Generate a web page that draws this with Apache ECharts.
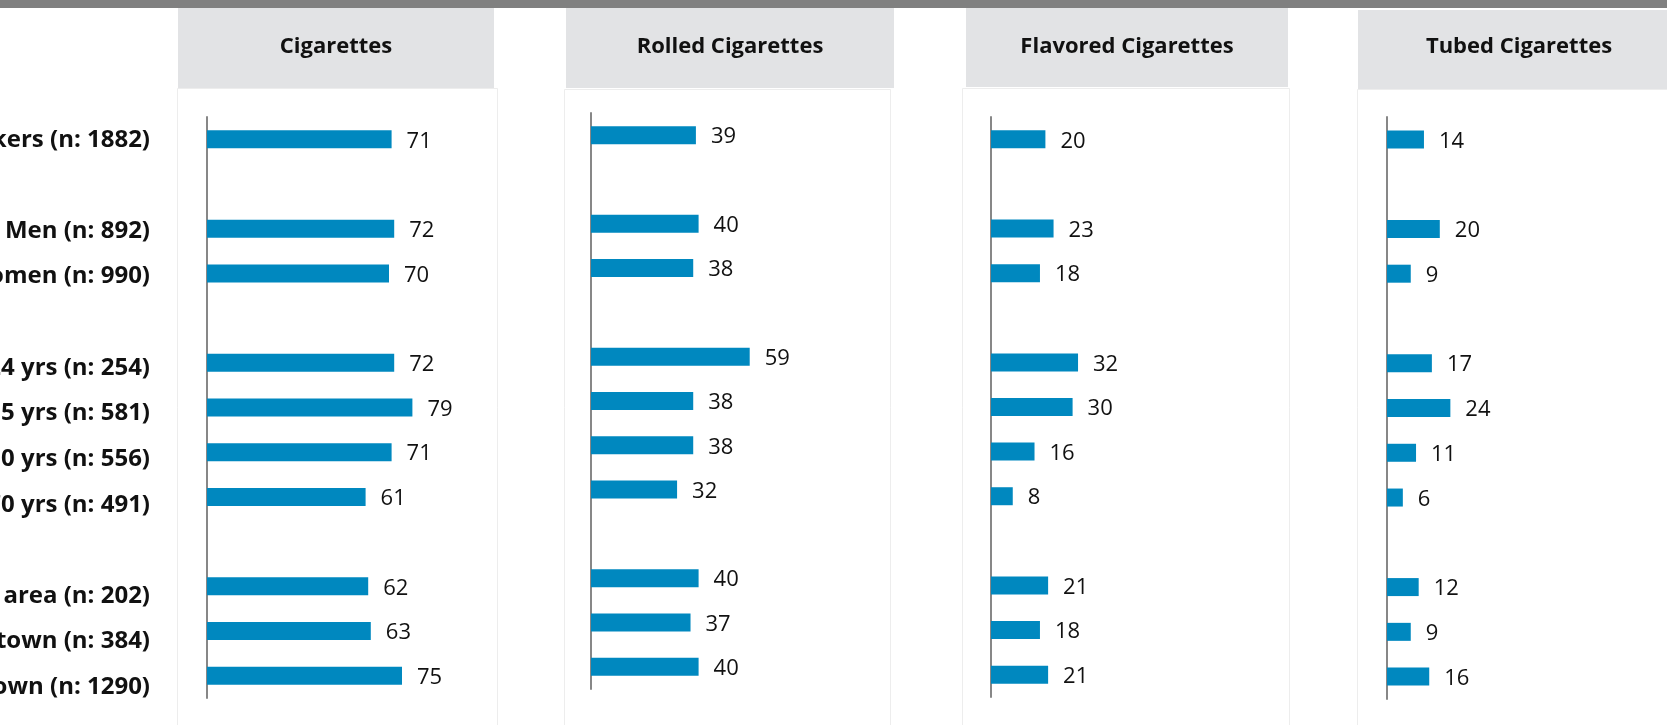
<!DOCTYPE html>
<html>
<head>
<meta charset="utf-8">
<script src="https://cdn.jsdelivr.net/npm/echarts@6/dist/echarts.min.js"></script>
<style>
  html, body { margin: 0; padding: 0; background: #ffffff; }
  #chart { width: 1667px; height: 725px; }
</style>
</head>
<body>
<div id="chart"></div>
<script>
// ---- data ----
const categories = ['All smokers (n: 1882)', '', 'Men (n: 892)', 'Women (n: 990)', '',
  '18-24 yrs (n: 254)', '25-35 yrs (n: 581)', '36-50 yrs (n: 556)', '51-70 yrs (n: 491)', '',
  'Rural area (n: 202)', 'Small town (n: 384)', 'Big town (n: 1290)'];
const panelTitles = ['Cigarettes', 'Rolled Cigarettes', 'Flavored Cigarettes', 'Tubed Cigarettes'];
const cigarettes = [71, null, 72, 70, null, 72, 79, 71, 61, null, 62, 63, 75];
const rolled     = [39, null, 40, 38, null, 59, 38, 38, 32, null, 40, 37, 40];
const flavored   = [20, null, 23, 18, null, 32, 30, 16, 8, null, 21, 18, 21];
const tubed      = [14, null, 20, 9, null, 17, 24, 11, 6, null, 12, 9, 16];
const seriesValues = [cigarettes, rolled, flavored, tubed];

// ---- layout / style ----
const BAR = '#0088BF';
const AXIS = '#878787';
const HEAD = '#E2E3E5';
const grids = [
  { left: 207, top: 117, width: 260, height: 581 },
  { left: 591, top: 113, width: 269, height: 576 },
  { left: 991, top: 117, width: 272, height: 580 },
  { left: 1387, top: 117, width: 264, height: 582 }
];
const headers = [
  { x: 178, y: 8, w: 316, h: 80, bx: 177.5, by: 88.5, bw: 320 },
  { x: 566, y: 8, w: 328, h: 80, bx: 564.5, by: 89.5, bw: 326 },
  { x: 966, y: 8, w: 322, h: 79, bx: 962.5, by: 88.5, bw: 327 },
  { x: 1358, y: 10, w: 330, h: 79, bx: 1357.5, by: 89.5, bw: 340 }
];
const titleCenters = [336, 730, 1127, 1519];

const gridOpts = grids.map(g => Object.assign({ outerBoundsMode: 'none', containLabel: false }, g));
// label grid
gridOpts.push({ left: 160, top: 117, width: 1, height: 593, outerBoundsMode: 'none', containLabel: false });

const xAxes = gridOpts.map((g, i) => ({
  type: 'value', gridIndex: i, min: 0, max: 100, show: false
}));
const yAxes = grids.map((g, i) => ({
  type: 'category', gridIndex: i, data: categories, inverse: true,
  axisLine: { show: true, lineStyle: { color: AXIS, width: 2 } },
  axisTick: { show: false }, axisLabel: { show: false }, splitLine: { show: false }
}));
yAxes.push({
  type: 'category', gridIndex: 4, data: categories, inverse: true,
  axisLine: { show: false }, axisTick: { show: false }, splitLine: { show: false },
  axisLabel: {
    show: true, interval: 0, margin: 10, color: '#111111',
    fontFamily: 'Open Sans', fontWeight: 'bold', fontSize: 24
  }
});

const series = seriesValues.map((vals, i) => ({
  type: 'bar', xAxisIndex: i, yAxisIndex: i, data: vals,
  barWidth: 18, itemStyle: { color: BAR },
  label: {
    show: true, position: 'right', distance: 15, offset: [0, 2],
    color: '#111111', fontFamily: 'Open Sans', fontSize: 22
  },
  silent: true, animation: false
}));

const graphics = [
  { type: 'rect', z: -10, shape: { x: 0, y: 0, width: 1667, height: 8 }, style: { fill: '#808080' } }
];
headers.forEach((h, i) => {
  graphics.push({ type: 'rect', z: -10, shape: { x: h.bx, y: h.by, width: h.bw, height: 700 },
    style: { fill: '#ffffff', stroke: '#EDEDED', lineWidth: 1 } });
  graphics.push({ type: 'rect', z: -9, shape: { x: h.x, y: h.y, width: h.w, height: h.h },
    style: { fill: HEAD } });
  graphics.push({ type: 'text', z: -8, x: titleCenters[i], y: 47,
    style: { text: panelTitles[i], fill: '#111111', font: 'bold 22px "Open Sans"',
      textAlign: 'center', textVerticalAlign: 'middle' } });
});

const chart = echarts.init(document.getElementById('chart'), null, { renderer: 'canvas' });
chart.setOption({
  backgroundColor: '#ffffff',
  animation: false,
  grid: gridOpts,
  xAxis: xAxes,
  yAxis: yAxes,
  series: series,
  graphic: { elements: graphics }
});
</script>
</body>
</html>
